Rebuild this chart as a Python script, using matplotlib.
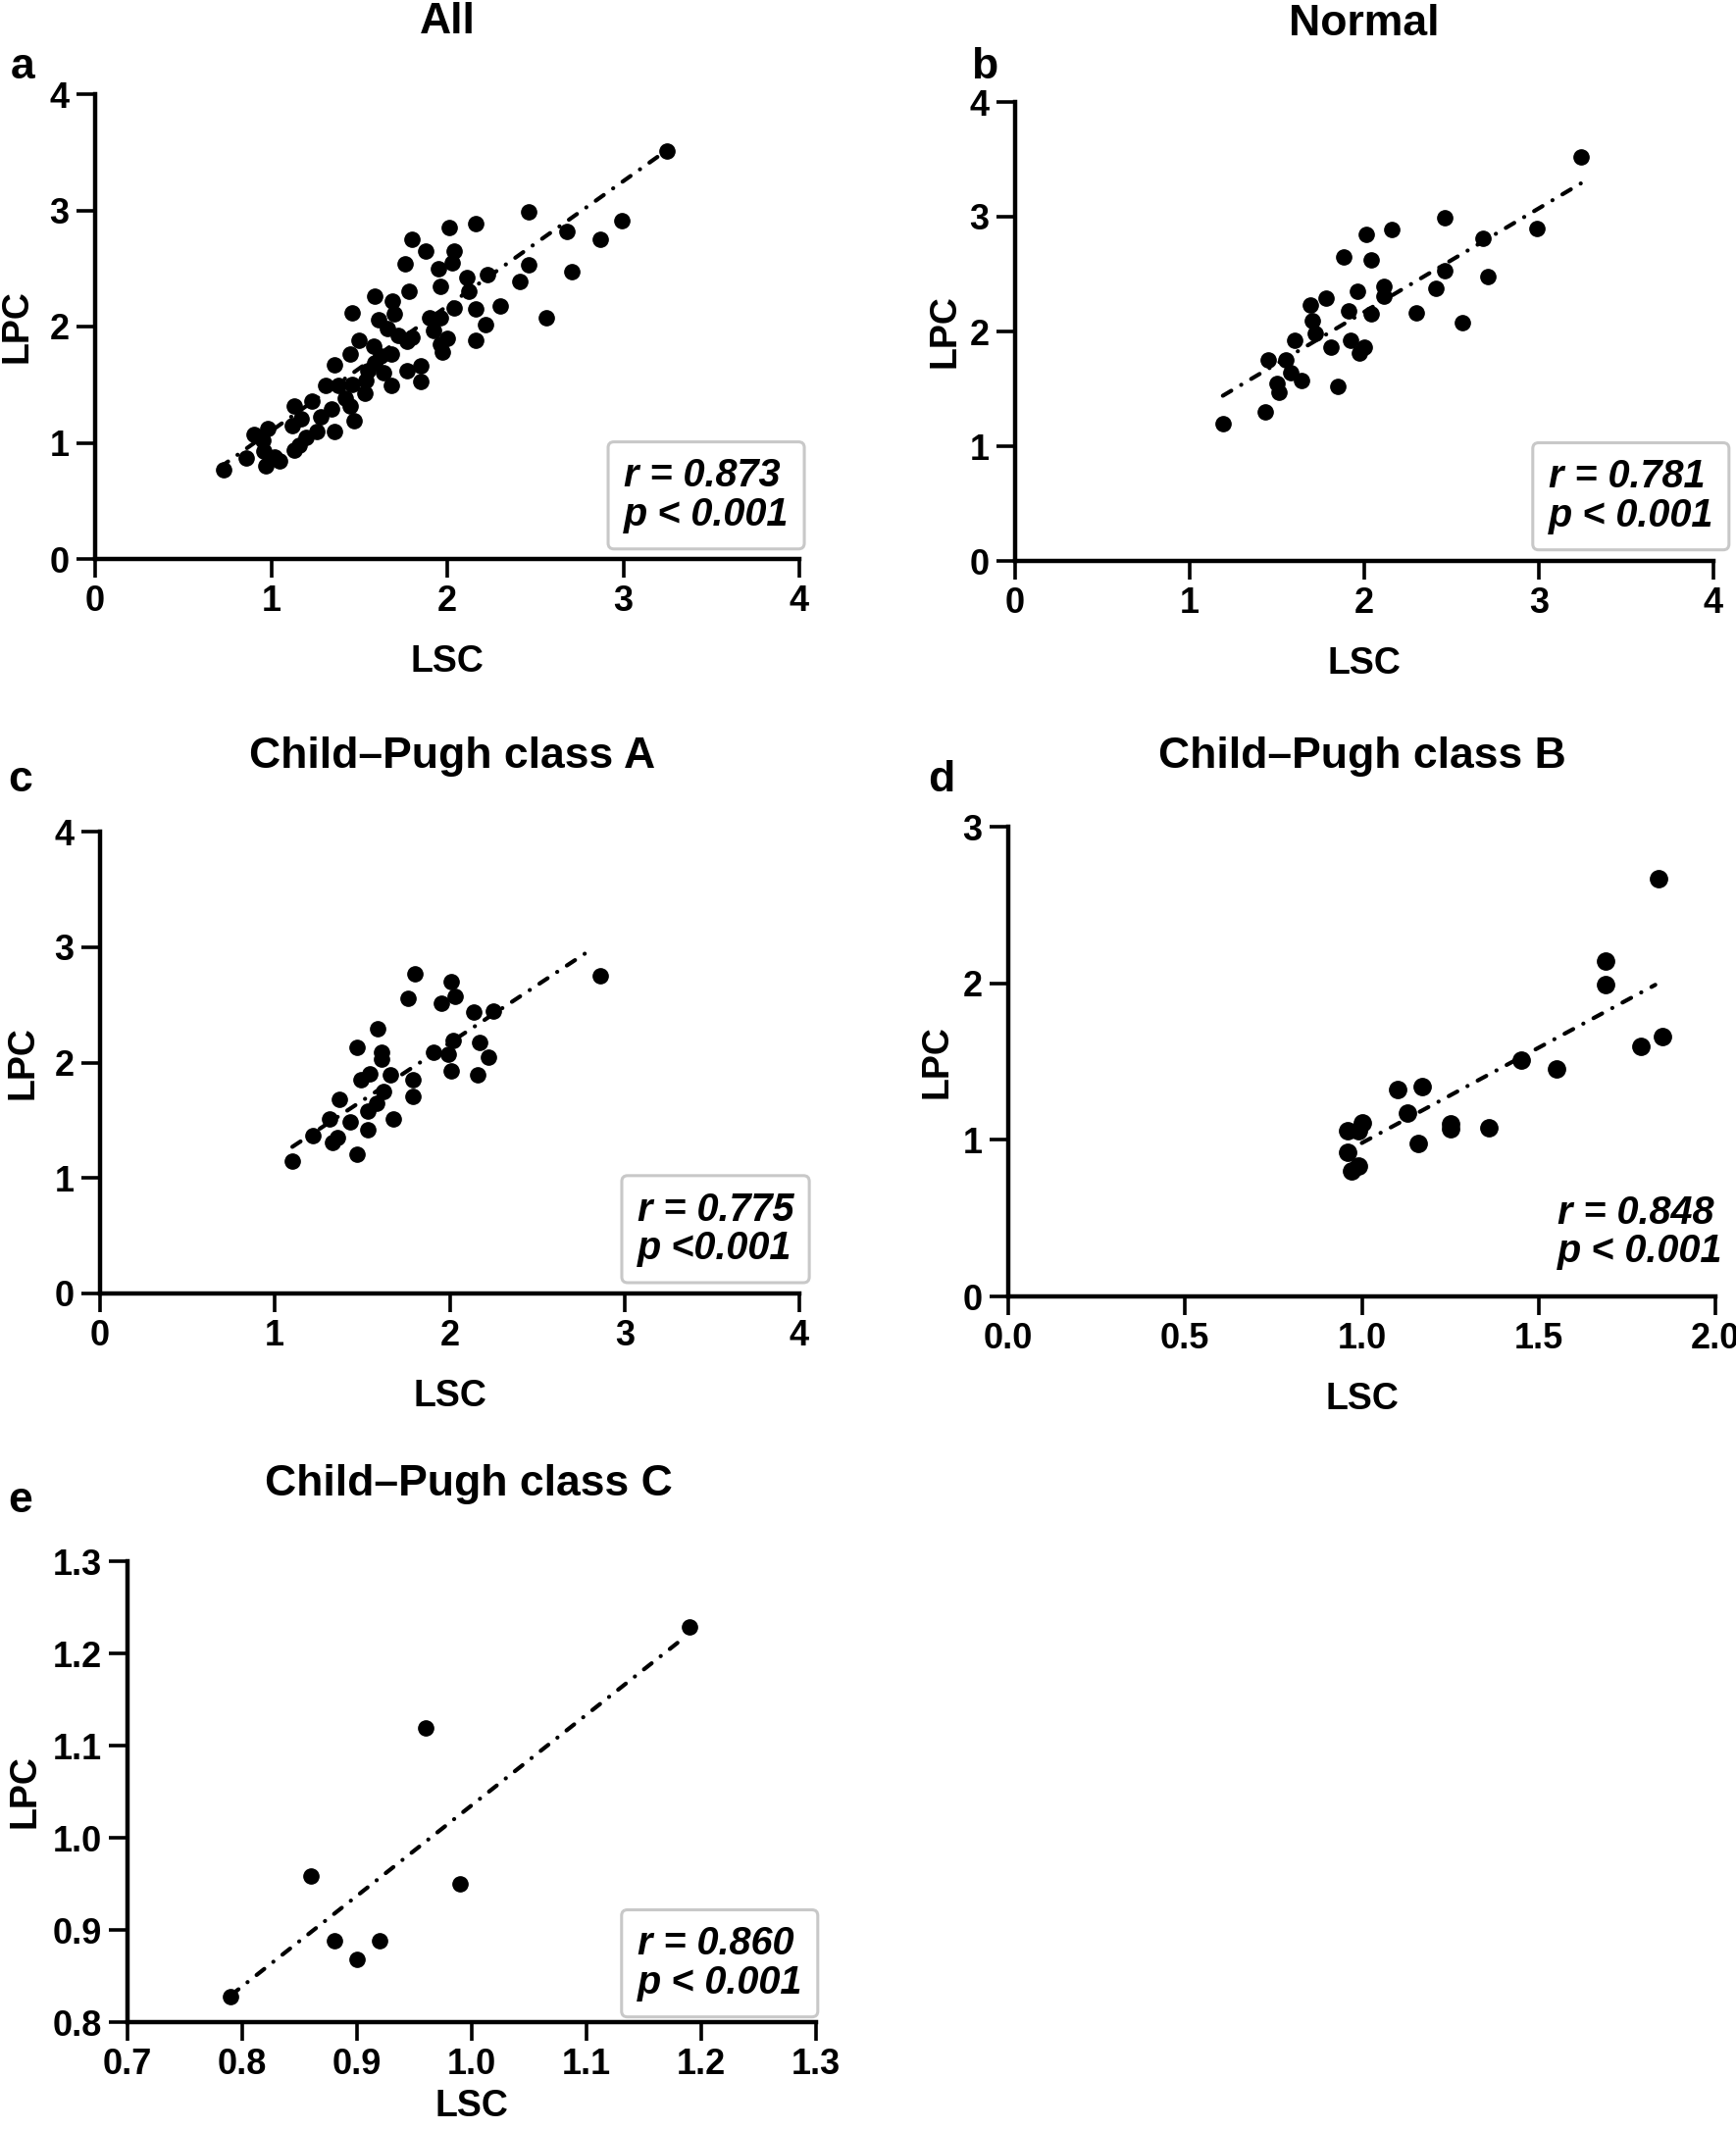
import numpy as np
import matplotlib.pyplot as plt

plt.rcParams['font.family'] = ['Liberation Sans', 'DejaVu Sans']
plt.rcParams['font.weight'] = 'bold'

# ---- data ----
# a: All
all_lsc = [0.73, 0.86, 0.90, 0.98, 0.97, 1.05, 0.96, 1.13, 1.16, 1.12, 1.17, 1.13, 1.23,
           1.26, 1.36, 1.34, 1.31, 1.38, 1.45, 1.47, 1.36, 1.46, 1.53, 1.54, 1.45, 1.50,
           1.58, 1.59, 1.64, 1.68, 1.46, 1.59, 1.61, 1.66, 1.69, 1.70, 1.68, 1.77, 1.80,
           1.77, 1.85, 1.85, 1.78, 1.76, 1.80, 1.88, 1.90, 1.92, 1.96, 2.00, 1.97, 1.96,
           1.95, 2.01, 2.04, 2.03, 1.96, 2.04, 2.11, 2.12, 2.16, 2.16, 2.16, 2.22, 2.30,
           2.23, 2.41, 2.46, 2.46, 2.56, 2.68, 2.71, 2.87, 2.99, 3.25, 0.95, 1.02, 1.20,
           1.28, 1.42, 1.55, 1.62, 1.72]
all_lpc = [0.77, 0.87, 1.07, 1.12, 0.80, 0.84, 0.93, 0.94, 0.98, 1.15, 1.21, 1.32, 1.36,
           1.10, 1.10, 1.29, 1.49, 1.49, 1.32, 1.19, 1.67, 1.50, 1.43, 1.54, 1.76, 1.88,
           1.83, 1.69, 1.60, 1.49, 2.12, 2.26, 2.06, 1.98, 2.22, 2.11, 1.76, 1.87, 1.91,
           1.62, 1.66, 1.53, 2.30, 2.54, 2.75, 2.65, 2.08, 1.97, 1.85, 1.90, 1.78, 2.35,
           2.50, 2.85, 2.65, 2.55, 2.08, 2.16, 2.42, 2.30, 2.89, 2.15, 1.88, 2.02, 2.18,
           2.45, 2.39, 2.53, 2.99, 2.08, 2.82, 2.47, 2.75, 2.91, 3.51, 1.02, 0.88, 1.05,
           1.22, 1.38, 1.62, 1.75, 1.92]
all_fit_x = [0.71, 3.25]
all_fit_y = [0.79, 3.52]

# b: Normal
nor_lsc = [1.19, 1.43, 1.45, 1.50, 1.51, 1.55, 1.58, 1.64, 1.60, 1.69, 1.70, 1.72, 1.78,
           1.81, 1.85, 1.88, 1.91, 1.92, 1.96, 1.97, 2.00, 2.01, 2.04, 2.04, 2.11, 2.11,
           2.16, 2.30, 2.41, 2.46, 2.46, 2.56, 2.68, 2.71, 2.99, 3.24]
nor_lpc = [1.20, 1.30, 1.75, 1.55, 1.47, 1.75, 1.64, 1.57, 1.92, 2.23, 2.09, 1.98, 2.29,
           1.86, 1.52, 2.65, 2.18, 1.92, 2.35, 1.81, 1.86, 2.85, 2.62, 2.15, 2.39, 2.31,
           2.89, 2.16, 2.38, 2.53, 2.99, 2.08, 2.81, 2.48, 2.90, 3.52]
nor_fit_x = [1.19, 3.24]
nor_fit_y = [1.44, 3.29]

# c: Child-Pugh class A
cpa_lsc = [1.10, 1.22, 1.31, 1.33, 1.36, 1.37, 1.43, 1.47, 1.47, 1.49, 1.53, 1.54, 1.53,
           1.59, 1.61, 1.61, 1.58, 1.62, 1.66, 1.68, 1.76, 1.80, 1.79, 1.79, 1.91, 1.95,
           1.99, 2.01, 2.03, 2.02, 2.01, 2.14, 2.17, 2.16, 2.22, 2.25, 2.86]
cpa_lpc = [1.15, 1.37, 1.51, 1.31, 1.35, 1.68, 1.49, 1.21, 2.13, 1.85, 1.42, 1.90, 1.58,
           2.29, 2.09, 2.03, 1.65, 1.75, 1.89, 1.51, 2.56, 2.77, 1.85, 1.71, 2.09, 2.51,
           2.07, 2.70, 2.57, 2.19, 1.93, 2.44, 2.17, 1.89, 2.05, 2.45, 2.75]
cpa_fit_x = [1.10, 2.81]
cpa_fit_y = [1.27, 2.98]

# d: Child-Pugh class B
cpb_lsc = [0.96, 1.00, 0.99, 0.96, 0.97, 0.99, 1.10, 1.17, 1.13, 1.16, 1.25, 1.25, 1.36,
           1.45, 1.55, 1.69, 1.69, 1.79, 1.85, 1.84]
cpb_lpc = [1.06, 1.11, 1.06, 0.92, 0.80, 0.83, 1.32, 1.34, 1.17, 0.98, 1.10, 1.07, 1.08,
           1.51, 1.45, 2.14, 1.99, 1.60, 1.66, 2.67]
cpb_fit_x = [1.00, 1.83]
cpb_fit_y = [0.98, 1.99]

# e: Child-Pugh class C
cpc_lsc = [0.79, 0.86, 0.88, 0.90, 0.92, 0.96, 0.99, 1.19]
cpc_lpc = [0.828, 0.959, 0.888, 0.868, 0.888, 1.119, 0.950, 1.229]
cpc_fit_x = [0.79, 1.186]
cpc_fit_y = [0.829, 1.218]

W, H = 1770, 2171
fig = plt.figure(figsize=(W / 100, H / 100), dpi=100)


def px_rect(l, t, r, b):
    return [l / W, 1 - b / H, (r - l) / W, (b - t) / H]


def panel(box, x, y, fx, fy, xlim, ylim, xticks, yticks, xfmt, yfmt,
          title, title_xy, letter, letter_xy, stat, stat_xy, boxed,
          ylab_off, xlab_off=105, ms=11):
    ax = fig.add_axes(px_rect(*box))
    l, t, r, b = box
    ax.plot(x, y, 'o', color='black', ms=ms, clip_on=False, zorder=3)
    ax.plot(fx, fy, color='black', lw=3.0, linestyle=(0, (2.4, 2.8, 0.05, 2.8)),
            dash_capstyle='round', clip_on=False)
    ax.set_xlim(*xlim)
    ax.set_ylim(*ylim)
    ax.set_xticks(xticks)
    ax.set_yticks(yticks)
    ax.set_xticklabels([xfmt.format(v) for v in xticks])
    ax.set_yticklabels([yfmt.format(v) for v in yticks])
    for s in ['top', 'right']:
        ax.spines[s].set_visible(False)
    for s in ['left', 'bottom']:
        ax.spines[s].set_linewidth(3.2)
    ax.tick_params(direction='out', length=14, width=2.6, pad=5, labelsize=26)
    ax.set_xlabel('LSC', fontsize=27, fontweight='bold', va='center')
    ax.xaxis.set_label_coords(0.5, -xlab_off / (b - t))
    ax.set_ylabel('LPC', fontsize=27, fontweight='bold', va='center')
    ax.yaxis.set_label_coords(-ylab_off / (r - l), 0.5)
    fig.text(title_xy[0] / W, 1 - title_xy[1] / H, title, fontsize=32,
             fontweight='bold', ha='center', va='center')
    fig.text(letter_xy[0] / W, 1 - letter_xy[1] / H, letter, fontsize=32,
             fontweight='bold', ha='center', va='center')
    bb = None
    if boxed:
        bb = dict(boxstyle='round,pad=0.4,rounding_size=0.15', fc='white',
                  ec='#c8c8c8', lw=2.2)
    ax.text(stat_xy[0], stat_xy[1], stat, transform=ax.transAxes, ha='right',
            va='bottom', fontsize=28.5, fontweight='bold', fontstyle='italic',
            multialignment='left', linespacing=1.05, bbox=bb, zorder=4)
    return ax


int_ticks = [0, 1, 2, 3, 4]
panel((97, 96, 815, 570), all_lsc, all_lpc, all_fit_x, all_fit_y, (0, 4), (0, 4),
      int_ticks, int_ticks, '{:g}', '{:g}', 'All', (456, 22), 'a', (23, 68),
      'r = 0.873\np < 0.001', (0.985, 0.055), True, 79)
panel((1035, 104, 1747, 572), nor_lsc, nor_lpc, nor_fit_x, nor_fit_y, (0, 4), (0, 4),
      int_ticks, int_ticks, '{:g}', '{:g}', 'Normal', (1391, 25), 'b', (1004, 69),
      'r = 0.781\np < 0.001', (1.0, 0.058), True, 72)
panel((102, 848, 815, 1319), cpa_lsc, cpa_lpc, cpa_fit_x, cpa_fit_y, (0, 4), (0, 4),
      int_ticks, int_ticks, '{:g}', '{:g}', 'Child\u2013Pugh class A', (461, 771),
      'c', (21, 796), 'r = 0.775\np <0.001', (0.992, 0.057), True, 79)
panel((1028, 843, 1749, 1322), cpb_lsc, cpb_lpc, cpb_fit_x, cpb_fit_y, (0, 2), (0, 3),
      [0, 0.5, 1.0, 1.5, 2.0], [0, 1, 2, 3], '{:.1f}', '{:g}', 'Child\u2013Pugh class B',
      (1389, 771), 'd', (960, 796), 'r = 0.848\np < 0.001', (1.01, 0.056), False, 72,
      ms=12.5)
panel((130, 1592, 832, 2062), cpc_lsc, cpc_lpc, cpc_fit_x, cpc_fit_y, (0.7, 1.3),
      (0.8, 1.3), [0.7, 0.8, 0.9, 1.0, 1.1, 1.2, 1.3], [0.8, 0.9, 1.0, 1.1, 1.2, 1.3],
      '{:.1f}', '{:.1f}', 'Child\u2013Pugh class C', (478, 1514), 'e', (21, 1530),
      'r = 0.860\np < 0.001', (0.98, 0.045), True, 105, xlab_off=86)

fig.savefig('out.png', dpi=100)
